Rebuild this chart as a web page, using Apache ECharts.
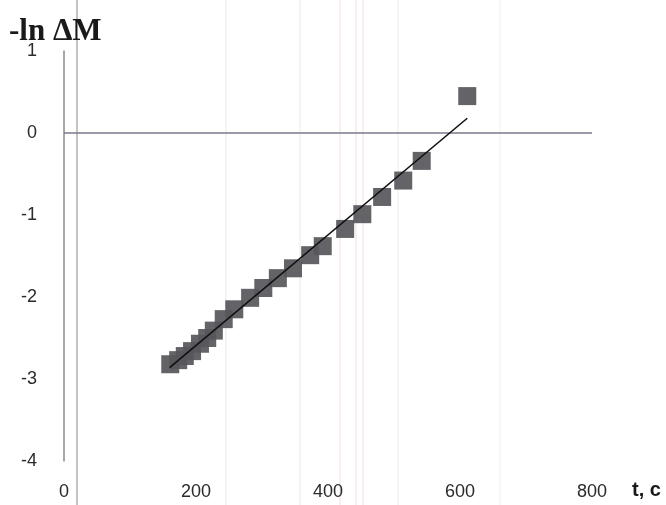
<!DOCTYPE html>
<html>
<head>
<meta charset="utf-8">
<script src="https://cdn.jsdelivr.net/npm/echarts@6/dist/echarts.min.js"></script>
<style>html,body{margin:0;padding:0;background:#fff}#c{width:666px;height:505px}</style>
</head>
<body>
<div id="c"></div>
<script>
// Data
var tValues = [161, 173, 183, 194, 206, 217, 227, 242, 258, 282, 302, 324, 347, 373, 392, 426, 452, 482, 514, 542, 611];
var lnValues = [-2.82, -2.77, -2.72, -2.66, -2.57, -2.50, -2.41, -2.27, -2.15, -2.01, -1.89, -1.77, -1.65, -1.49, -1.38, -1.17, -0.99, -0.78, -0.58, -0.34, 0.45];
var trendT = [160, 611];
var trendLn = [-2.86, 0.18];
var xTicks = [0, 200, 400, 600, 800];
var yTicks = [-4, -3, -2, -1, 0, 1];
var yTitle = '-ln ΔM';
var xTitle = 't, c';

var chart = echarts.init(document.getElementById('c'), null, {renderer: 'canvas'});
var pts = tValues.map(function (t, i) { return [t, lnValues[i]]; });
var trend = trendT.map(function (t, i) { return [t, trendLn[i]]; });
var labelFont = {fontFamily: 'Liberation Sans', fontSize: 18, color: '#2a2a2a'};

chart.setOption({
  backgroundColor: '#fff',
  animation: false,
  grid: {left: 64, right: 74, top: 51, bottom: 44},
  xAxis: {
    type: 'value', min: xTicks[0], max: xTicks[xTicks.length - 1], interval: 200,
    axisLine: {show: false}, axisTick: {show: false}, splitLine: {show: false},
    axisLabel: Object.assign({margin: 22}, labelFont)
  },
  yAxis: {
    type: 'value', min: yTicks[0], max: yTicks[yTicks.length - 1], interval: 1,
    axisLine: {show: true, onZero: false, lineStyle: {color: '#8a8a8a', width: 1.5}},
    axisTick: {show: false}, splitLine: {show: false},
    axisLabel: Object.assign({margin: 27}, labelFont)
  },
  graphic: [
    {type: 'line', shape: {x1: 77, y1: 0, x2: 77, y2: 505}, style: {stroke: '#9a9a9a', lineWidth: 1.2}, z: 0},
    {type: 'line', shape: {x1: 226, y1: 0, x2: 226, y2: 505}, style: {stroke: '#f0e4e4', lineWidth: 1}, z: 0},
    {type: 'line', shape: {x1: 300, y1: 0, x2: 300, y2: 505}, style: {stroke: '#f3e6e6', lineWidth: 1}, z: 0},
    {type: 'line', shape: {x1: 340, y1: 0, x2: 340, y2: 505}, style: {stroke: '#f3dede', lineWidth: 1}, z: 0},
    {type: 'line', shape: {x1: 356, y1: 0, x2: 356, y2: 505}, style: {stroke: '#f3dede', lineWidth: 1}, z: 0},
    {type: 'line', shape: {x1: 363, y1: 0, x2: 363, y2: 505}, style: {stroke: '#f0e0e0', lineWidth: 1}, z: 0},
    {type: 'line', shape: {x1: 398, y1: 0, x2: 398, y2: 505}, style: {stroke: '#ececec', lineWidth: 1}, z: 0},
    {type: 'line', shape: {x1: 500, y1: 0, x2: 500, y2: 505}, style: {stroke: '#f0f0f0', lineWidth: 1}, z: 0},
    {type: 'text', left: 9, top: 16, style: {text: yTitle, font: 'bold 31px "Liberation Serif"', fill: '#1a1a1a'}},
    {type: 'text', left: 632, top: 480, style: {text: xTitle, font: 'bold 20px "Liberation Sans"', fill: '#1a1a1a'}}
  ],
  series: [
    {
      type: 'line', data: [[xTicks[0], 0], [xTicks[xTicks.length - 1], 0]],
      symbol: 'none', lineStyle: {color: '#7a7a8a', width: 1.3}, z: 1, silent: true
    },
    {
      type: 'scatter', data: pts, symbol: 'rect', symbolSize: 18,
      itemStyle: {color: '#56565b', opacity: 0.92}, z: 2
    },
    {
      type: 'line', data: trend, symbol: 'none',
      lineStyle: {color: '#111', width: 1.6}, z: 3
    }
  ]
});
</script>
</body>
</html>
